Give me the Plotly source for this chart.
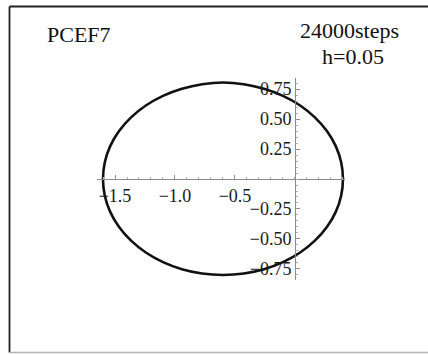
import plotly.graph_objects as go

# Phase-plane orbit (x, y) traced by the PCEF7 integrator
orbit_x = [0.400, 0.385, 0.340, 0.266, 0.166, 0.043, -0.100, -0.258, -0.426,
           -0.600, -0.774, -0.942, -1.100, -1.243, -1.366, -1.466, -1.540, -1.585,
           -1.600, -1.585, -1.540, -1.466, -1.366, -1.243, -1.100, -0.942, -0.774,
           -0.600, -0.426, -0.258, -0.100, 0.043, 0.166, 0.266, 0.340, 0.385, 0.400]
orbit_y = [0.000, 0.139, 0.274, 0.400, 0.514, 0.613, 0.693, 0.752, 0.790,
           0.805, 0.790, 0.752, 0.693, 0.613, 0.514, 0.400, 0.274, 0.139,
           0.000, -0.139, -0.274, -0.400, -0.514, -0.613, -0.693, -0.752, -0.788,
           -0.800, -0.788, -0.752, -0.693, -0.613, -0.514, -0.400, -0.274, -0.139, 0.000]

x_ticks = [-1.5, -1.0, -0.5]
x_tick_labels = ["\u22121.5", "\u22121.0", "\u22120.5"]
y_ticks = [-0.75, -0.5, -0.25, 0.25, 0.5, 0.75]
y_tick_labels = ["\u22120.75", "\u22120.50", "\u22120.25", "0.25", "0.50", "0.75"]

method_label = "PCEF7"
steps_label = "24000steps"
step_size_label = "h=0.05"

W, H = 428, 355
SERIF = "Liberation Serif, Times New Roman, DejaVu Serif, serif"
AXIS_GREY = "#8c8c8c"


def px_x(p):
    return p / W


def px_y(p):
    return (H - p) / H


fig = go.Figure()
fig.add_trace(go.Scatter(
    x=orbit_x, y=orbit_y, mode="lines",
    line=dict(color="#111111", width=2.6, shape="spline", smoothing=1.0),
    hoverinfo="skip", showlegend=False,
))

axis_common = dict(
    showline=True, linecolor=AXIS_GREY, linewidth=1,
    showgrid=False, zeroline=False, fixedrange=True,
    ticks="inside", ticklen=4, tickwidth=1, tickcolor=AXIS_GREY,
    tickmode="array",
    tickfont=dict(family=SERIF, size=18, color="#1a1a1a"),
    anchor="free",
)

fig.update_layout(
    width=W, height=H,
    margin=dict(l=0, r=0, t=0, b=0),
    paper_bgcolor="white", plot_bgcolor="white",
    xaxis=dict(
        **axis_common,
        domain=[px_x(97), px_x(345)],
        range=[-1.65, 0.417],
        position=px_y(179),
        tickvals=x_ticks, ticktext=x_tick_labels,
        minor=dict(ticks="inside", ticklen=2, tickcolor="#b0b0b0", dtick=0.1, tick0=0),
    ),
    yaxis=dict(
        **axis_common,
        domain=[px_y(280), px_y(78)],
        range=[-0.842, 0.842],
        position=px_x(295),
        side="left",
        tickvals=y_ticks, ticktext=y_tick_labels,
        minor=dict(ticks="inside", ticklen=2, tickcolor="#b0b0b0", dtick=0.05, tick0=0),
    ),
    annotations=[
        dict(text=method_label, xref="paper", yref="paper", x=px_x(45), y=px_y(34.5),
             xanchor="left", yanchor="middle", showarrow=False,
             font=dict(family=SERIF, size=22, color="#111111")),
        dict(text=steps_label, xref="paper", yref="paper", x=px_x(349), y=px_y(31),
             xanchor="center", yanchor="middle", showarrow=False,
             font=dict(family=SERIF, size=22, color="#111111")),
        dict(text=step_size_label, xref="paper", yref="paper", x=px_x(353), y=px_y(56.5),
             xanchor="center", yanchor="middle", showarrow=False,
             font=dict(family=SERIF, size=22, color="#111111")),
    ],
    shapes=[
        dict(type="line", xref="paper", yref="paper",
             x0=px_x(9.5), x1=1.0, y0=px_y(6.5), y1=px_y(6.5),
             line=dict(color="#222222", width=1.8)),
        dict(type="line", xref="paper", yref="paper",
             x0=px_x(9.5), x1=px_x(9.5), y0=px_y(6.5), y1=px_y(352.5),
             line=dict(color="#222222", width=1.8)),
        dict(type="line", xref="paper", yref="paper",
             x0=px_x(9.5), x1=1.0, y0=px_y(352.5), y1=px_y(352.5),
             line=dict(color="#b5b5b5", width=1.5)),
    ],
)

fig.write_html("out.html")
